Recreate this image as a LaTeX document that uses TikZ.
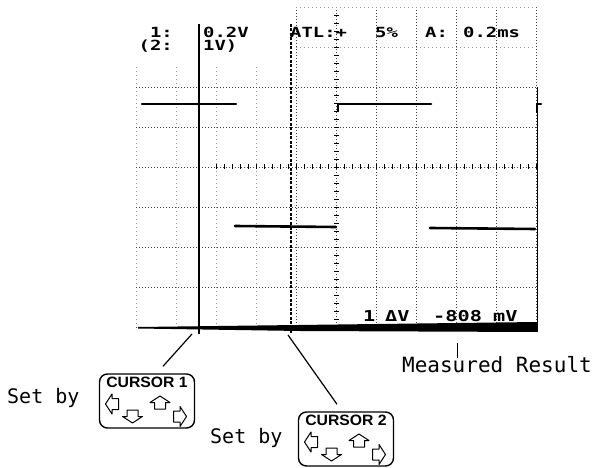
\documentclass[tikz,border=0pt]{standalone}
\usepackage{fontspec}
\newfontfamily\scopefont[FakeStretch=1.35]{DejaVu Sans Mono}
\newfontfamily\notefont{DejaVu Sans Mono}
\newfontfamily\keyfont[FakeStretch=1.05]{Liberation Sans}
\usetikzlibrary{positioning}
\tikzset{
  gridline/.style={black!75,line width=.6pt,dash pattern=on .8pt off 2.2pt},
  faintgrid/.style={black!40,line width=.5pt,dash pattern=on .8pt off 3.2pt},
  trace/.style={line width=2.6pt,line cap=round},
  scopetxt/.style={font=\scopefont\bfseries\fontsize{14}{14}\selectfont,inner sep=0pt,anchor=west},
  readtxt/.style={font=\scopefont\bfseries\fontsize{15}{15}\selectfont,inner sep=0pt,anchor=west},
  notetxt/.style={font=\notefont\fontsize{20}{20}\selectfont,inner sep=0pt},
  keybox/.style={draw,line width=1.4pt,rounded corners=8pt,minimum width=95pt,minimum height=54pt},
  keylabel/.style={font=\keyfont\bfseries\fontsize{15}{15}\selectfont,inner sep=0pt},
  arrowkey/.pic={\draw[line width=1pt,line join=round] (-5.5,6.5) -- (5.5,6.5) -- (5.5,0) -- (10,0) -- (0,-6.5) -- (-10,0) -- (-5.5,0) -- cycle;},
  keypad/.pic={
    \pic[rotate=90] at (-35,3) {arrowkey};
    \pic[rotate=180] at (-14.5,15.5) {arrowkey};
    \pic at (13,1.5) {arrowkey};
    \pic[rotate=-90] at (33,15.5) {arrowkey};
  }
}
\begin{document}
\begin{tikzpicture}[x=1pt,y=-1pt]
\useasboundingbox (0,0) rectangle (595,468);
% screen grid
\foreach \x in {296,336,...,536} \draw[gridline] (\x,7) -- (\x,327);
\foreach \x in {136,176,216,256} \draw[faintgrid] (\x,67) -- (\x,327);
\foreach \y in {87,127,...,327} \draw[gridline] (136,\y) -- (536,\y);
\foreach \y in {7,47} \draw[faintgrid] (296,\y) -- (536,\y);
\foreach \y in {15,23,...,327} \draw[line width=.7pt] (333.5,\y) -- (338.5,\y);
\foreach \x in {216,224,...,536} \draw[line width=.7pt] (\x,164.5) -- (\x,169.5);
\draw[line width=1pt] (537,87) -- (537,332);
\fill (138,327) -- (537,322) -- (537,332) -- (300,331) -- (138,328.5) -- cycle;
% trace
\draw[trace] (142,104) -- (236,104);
\draw[trace] (235,226) -- (336,227);
\draw[trace] (338,111) -- (338,104) -- (431,104);
\draw[trace] (430,228) -- (535,229);
\draw[trace] (537,112) -- (537,104) -- (541,104);
% cursors
\draw[line width=1.8pt] (199,24) -- (199,334);
\draw[line width=2.4pt,dash pattern=on 3pt off 1.5pt] (291,24) -- (291,334);
% readouts
\node[scopetxt,anchor=east] (ch1) at (173,32) {1:};
\node[scopetxt,anchor=east] (ch2) at (173,46) {(2:};
\node[scopetxt] (ch1v) at (203,32) {0.2V};
\node[scopetxt] (ch2v) at (203,46) {1V)};
\node[scopetxt] (atl) at (290,32) {ATL:+};
\node[scopetxt] (pct) at (375,32) {5\%};
\node[scopetxt] (tima) at (425,32) {A:};
\node[scopetxt] (timb) at (463,32) {0.2ms};
\node[readtxt] (rdone) at (363,316) {1};
\node[readtxt] (rddv) at (385,316) {ΔV};
\node[readtxt] (rdval) at (433,316) {-808};
\node[readtxt] (rdunit) at (493,316) {mV};
% keys
\node[keybox] (key1) at (147,401) {};
\node[keylabel,below=3.5pt of key1.north] (key1lab) {CURSOR 1};
\pic at (key1.center) {keypad};
\node[keybox] (key2) at (346,439) {};
\node[keylabel,below=3.5pt of key2.north] (key2lab) {CURSOR 2};
\pic at (key2.center) {keypad};
\node[notetxt,anchor=base west] (set1) at (7,403) {Set by};
\node[notetxt,anchor=base west] (set2) at (210,443) {Set by};
\node[notetxt,anchor=base east,font=\notefont\fontsize{21}{21}\selectfont] (result) at (592,372) {Measured Result};
\coordinate (foot1) at (192,334);
\coordinate (foot2) at (288,335);
\coordinate (tick) at (457,343);
\draw[line width=1.2pt] (foot1) -- ([shift={(16,-7)}]key1.north);
\draw[line width=1.2pt] (foot2) -- ([shift={(-9,-7)}]key2.north);
\draw[line width=1pt] (tick) -- ([yshift=-2pt]tick |- result.north);
\end{tikzpicture}
\end{document}
